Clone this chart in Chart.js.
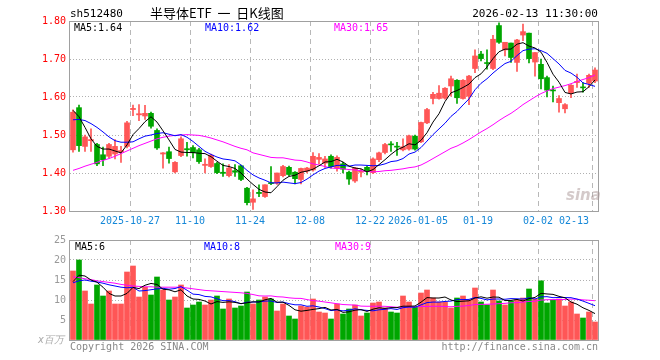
<!DOCTYPE html>
<html>
<head>
<meta charset="utf-8">
<script src="https://cdn.jsdelivr.net/npm/chart.js@4.4.1/dist/chart.umd.min.js"></script>
<style>
  body { margin: 0; background: #fff; }
  #wrap { position: relative; width: 660px; height: 360px; overflow: hidden; font-family: "DejaVu Sans Mono", monospace; font-size: 10px; }
  #wrap canvas { position: absolute; left: 0; }
  .t { position: absolute; white-space: nowrap; line-height: 1; }
</style>
</head>
<body>
<div id="wrap">
  <canvas id="kline" width="660" height="230" style="top:0"></canvas>
  <canvas id="vol" width="660" height="130" style="top:230px"></canvas>

  <div class="t" style="left:70px;top:8px;font-size:11px;color:#000">sh512480</div>
  <div class="t" style="left:150px;top:6px;font-size:13px;font-family:'Noto Sans CJK SC',sans-serif;color:#000">半导体ETF&nbsp;&nbsp;一&nbsp;&nbsp;日K线图</div>
  <div class="t" style="right:62px;top:8px;font-size:11px;color:#000">2026-02-13 11:30:00</div>

  <div class="t" style="left:74px;top:23px;color:#000">MA5:1.64</div>
  <div class="t" style="left:205px;top:23px;color:#00f">MA10:1.62</div>
  <div class="t" style="left:334px;top:23px;color:#f0f">MA30:1.65</div>

  <div class="t" style="left:75px;top:242px;color:#000">MA5:6</div>
  <div class="t" style="left:204px;top:242px;color:#00f">MA10:8</div>
  <div class="t" style="left:335px;top:242px;color:#f0f">MA30:9</div>

  <div class="t" style="left:38px;top:335px;color:#aaa;font-style:italic">x百万</div>
  <div class="t" style="left:70px;top:342px;color:#888">Copyright 2026 SINA.COM</div>
  <div class="t" style="right:62px;top:342px;color:#888">http://finance.sina.com.cn</div>
  <div class="t" style="left:566px;top:188px;font-size:15px;font-weight:bold;font-style:italic;font-family:'DejaVu Sans',sans-serif;color:rgba(170,150,150,0.5)">sina</div>
</div>

<script>
// 交易日
const dates = [
  '2025-10-13','2025-10-14','2025-10-15','2025-10-16','2025-10-17','2025-10-20','2025-10-21','2025-10-22','2025-10-23','2025-10-24',
  '2025-10-27','2025-10-28','2025-10-29','2025-10-30','2025-10-31','2025-11-03','2025-11-04','2025-11-05','2025-11-06','2025-11-07',
  '2025-11-10','2025-11-11','2025-11-12','2025-11-13','2025-11-14','2025-11-17','2025-11-18','2025-11-19','2025-11-20','2025-11-21',
  '2025-11-24','2025-11-25','2025-11-26','2025-11-27','2025-11-28','2025-12-01','2025-12-02','2025-12-03','2025-12-04','2025-12-05',
  '2025-12-08','2025-12-09','2025-12-10','2025-12-11','2025-12-12','2025-12-15','2025-12-16','2025-12-17','2025-12-18','2025-12-19',
  '2025-12-22','2025-12-23','2025-12-24','2025-12-25','2025-12-26','2025-12-29','2025-12-30','2025-12-31','2026-01-05','2026-01-06',
  '2026-01-07','2026-01-08','2026-01-09','2026-01-12','2026-01-13','2026-01-14','2026-01-15','2026-01-16','2026-01-19','2026-01-20',
  '2026-01-21','2026-01-22','2026-01-23','2026-01-26','2026-01-27','2026-01-28','2026-01-29','2026-01-30','2026-02-02','2026-02-03',
  '2026-02-04','2026-02-05','2026-02-06','2026-02-09','2026-02-10','2026-02-11','2026-02-12','2026-02-13'
];

const opens = [
  1.461,1.572,1.470,1.485,1.475,1.448,1.444,1.450,1.455,1.470,
  1.567,1.553,1.550,1.557,1.512,1.450,1.456,1.403,1.446,1.464,
  1.467,1.461,1.420,1.417,1.425,1.402,1.393,1.406,1.419,1.360,
  1.323,1.349,1.338,1.374,1.373,1.393,1.415,1.402,1.383,1.405,
  1.408,1.436,1.426,1.444,1.413,1.424,1.402,1.379,1.402,1.415,
  1.401,1.435,1.454,1.476,1.470,1.461,1.463,1.497,1.482,1.532,
  1.596,1.596,1.597,1.629,1.644,1.596,1.602,1.675,1.713,1.690,
  1.675,1.788,1.724,1.742,1.691,1.763,1.768,1.692,1.686,1.651,
  1.618,1.585,1.569,1.611,1.638,1.626,1.636,1.642
];
const highs = [
  1.566,1.579,1.500,1.516,1.478,1.468,1.478,1.488,1.470,1.536,
  1.579,1.580,1.578,1.560,1.516,1.454,1.468,1.430,1.495,1.481,
  1.472,1.465,1.437,1.450,1.428,1.424,1.422,1.422,1.421,1.362,
  1.356,1.369,1.369,1.417,1.400,1.420,1.418,1.404,1.413,1.415,
  1.454,1.451,1.444,1.448,1.445,1.428,1.405,1.415,1.410,1.418,
  1.440,1.455,1.478,1.483,1.481,1.490,1.500,1.500,1.534,1.570,
  1.612,1.630,1.625,1.655,1.646,1.646,1.657,1.724,1.720,1.724,
  1.762,1.795,1.744,1.742,1.752,1.792,1.768,1.717,1.700,1.655,
  1.629,1.604,1.583,1.633,1.660,1.638,1.660,1.677
];
const lows = [
  1.455,1.457,1.457,1.457,1.419,1.419,1.440,1.437,1.428,1.466,
  1.551,1.538,1.541,1.518,1.462,1.413,1.426,1.400,1.443,1.444,
  1.440,1.425,1.400,1.415,1.398,1.391,1.390,1.391,1.380,1.316,
  1.304,1.338,1.336,1.369,1.370,1.390,1.393,1.371,1.371,1.400,
  1.405,1.424,1.415,1.413,1.405,1.400,1.370,1.375,1.390,1.395,
  1.398,1.430,1.450,1.457,1.446,1.458,1.460,1.460,1.480,1.530,
  1.582,1.594,1.594,1.602,1.583,1.594,1.580,1.664,1.695,1.673,
  1.672,1.741,1.708,1.691,1.667,1.748,1.690,1.655,1.621,1.600,
  1.587,1.560,1.558,1.598,1.625,1.613,1.625,1.638
];
const closes = [
  1.560,1.472,1.495,1.488,1.424,1.435,1.475,1.470,1.459,1.532,
  1.570,1.556,1.557,1.523,1.466,1.453,1.438,1.428,1.490,1.461,
  1.453,1.430,1.423,1.447,1.401,1.399,1.413,1.402,1.383,1.322,
  1.332,1.346,1.369,1.372,1.400,1.417,1.396,1.385,1.412,1.413,
  1.444,1.441,1.437,1.417,1.441,1.410,1.384,1.413,1.405,1.404,
  1.437,1.453,1.475,1.474,1.468,1.469,1.498,1.463,1.533,1.567,
  1.607,1.610,1.623,1.648,1.598,1.644,1.655,1.708,1.701,1.688,
  1.752,1.744,1.744,1.704,1.750,1.772,1.701,1.717,1.648,1.618,
  1.616,1.596,1.580,1.631,1.641,1.624,1.657,1.671
];

// 均线（读自图中）
const ma5 = [
  1.565,1.548,1.520,1.490,1.470,1.463,1.463,1.458,1.453,1.474,
  1.501,1.517,1.535,1.548,1.534,1.511,1.487,1.462,1.455,1.454,
  1.454,1.452,1.451,1.443,1.431,1.420,1.417,1.412,1.400,1.384,
  1.370,1.357,1.350,1.348,1.364,1.381,1.391,1.394,1.402,1.405,
  1.410,1.419,1.429,1.430,1.436,1.429,1.418,1.413,1.411,1.403,
  1.409,1.422,1.435,1.449,1.461,1.468,1.477,1.474,1.486,1.506,
  1.534,1.556,1.588,1.611,1.617,1.625,1.634,1.651,1.661,1.679,
  1.701,1.719,1.726,1.726,1.739,1.743,1.734,1.729,1.718,1.691,
  1.660,1.639,1.612,1.608,1.613,1.614,1.627,1.645
];
const ma10 = [
  1.540,1.541,1.538,1.530,1.520,1.508,1.495,1.485,1.481,1.481,
  1.482,1.490,1.497,1.500,1.504,1.506,1.502,1.498,1.501,1.494,
  1.483,1.470,1.457,1.449,1.442,1.437,1.435,1.432,1.421,1.407,
  1.395,1.387,1.381,1.374,1.374,1.376,1.374,1.372,1.375,1.384,
  1.395,1.405,1.412,1.416,1.420,1.420,1.418,1.421,1.421,1.420,
  1.419,1.420,1.424,1.430,1.432,1.438,1.450,1.455,1.467,1.484,
  1.501,1.516,1.531,1.549,1.562,1.579,1.595,1.619,1.636,1.648,
  1.663,1.676,1.688,1.694,1.709,1.722,1.726,1.727,1.722,1.715,
  1.701,1.687,1.670,1.663,1.652,1.637,1.633,1.628
];
const ma30 = [
  1.407,1.412,1.418,1.423,1.428,1.433,1.438,1.444,1.451,1.458,
  1.465,1.472,1.478,1.484,1.490,1.494,1.497,1.499,1.500,1.501,
  1.500,1.499,1.496,1.492,1.487,1.482,1.476,1.470,1.465,1.461,
  1.453,1.449,1.445,1.441,1.440,1.440,1.437,1.434,1.433,1.429,
  1.424,1.421,1.417,1.413,1.412,1.411,1.409,1.408,1.406,1.404,
  1.403,1.404,1.406,1.407,1.409,1.411,1.414,1.416,1.421,1.429,
  1.438,1.447,1.456,1.465,1.471,1.479,1.488,1.498,1.508,1.517,
  1.527,1.538,1.548,1.557,1.568,1.580,1.590,1.600,1.609,1.616,
  1.622,1.626,1.630,1.635,1.641,1.646,1.651,1.658
];

// 成交量（百万）
const volumes = [
  17.25,20,12.25,9,13.75,11,12.25,9,9,17,
  18.5,10.75,13.2,11.25,15.75,12.5,10,10.75,13.75,8,
  8.75,9.5,8.75,10,11,7.75,10.25,8,8.5,12,
  9,10,10.75,10.25,7.25,9,6,5.25,8.5,8.25,
  10.25,7,6.75,5.25,9,6.5,7.75,8.75,6,6.75,
  9.25,9.5,8,7,6.75,11,9.5,8.25,11.75,12.5,
  10.5,9.5,9.5,8,10.5,11,10,13,9.5,8.75,
  12.5,9.75,8.75,9.75,10,10.5,12.75,10.25,14.8,9.25,
  10,10.25,8.5,9.5,6.5,5.5,7,4.5
];
const volMa5 = [
  14.6,16.2,16.0,15.0,14.45,13.2,11.65,11,11,11.65,
  13.15,12.85,13.69,14.14,13.89,12.69,12.54,12.05,12.55,11,
  10.25,10.15,9.75,9,9.6,9.4,9.55,9.4,9.1,9.3,
  9.55,9.5,10.05,10.4,9.45,9.45,8.65,7.55,7.2,7.4,
  7.65,7.85,8.15,7.5,7.65,6.9,7.05,7.45,7.6,7.15,
  7.7,8.05,7.9,8.1,8.1,8.45,8.45,8.5,9.45,10.6,
  10.5,10.5,10.75,10,9.6,9.7,9.8,10.5,10.8,10.45,
  10.75,10.7,9.85,9.9,10.15,9.75,10.35,10.65,11.66,11.51,
  11.41,10.91,10.56,9.5,8.95,8.05,7.4,6.6
];
const volMa10 = [
  14.3,14.8,15.0,14.7,14.5,14.2,13.8,13.5,13.2,13.05,
  13.18,12.25,12.35,12.57,12.77,12.92,12.7,12.87,13.35,12.45,
  11.47,11.35,10.9,10.78,10.3,9.83,9.85,9.58,9.05,9.45,
  9.48,9.53,9.73,9.75,9.38,9.5,9.08,8.8,8.8,8.43,
  8.55,8.25,7.85,7.35,7.53,7.28,7.45,7.8,7.55,7.4,
  7.3,7.55,7.68,7.85,7.63,8.08,8.25,8.2,8.78,9.35,
  9.48,9.48,9.63,9.73,10.1,10.1,10.15,10.63,10.4,10.03,
  10.23,10.25,10.18,10.35,10.3,10.25,10.53,10.25,10.78,10.83,
  10.58,10.63,10.61,10.58,10.23,9.73,9.16,8.58
];
const volMa30 = [
  15.8,15.6,15.3,15.1,14.8,14.6,14.4,14.2,13.9,13.7,
  13.5,13.4,13.3,13.3,13.2,13.2,13.2,13.2,13.2,13.0,
  12.8,12.6,12.4,12.3,12.2,12.1,12.0,11.9,11.8,11.65,
  11.37,11.04,10.99,11.03,10.82,10.75,10.54,10.42,10.4,10.11,
  9.83,9.71,9.49,9.29,9.07,8.87,8.79,8.73,8.47,8.43,
  8.44,8.44,8.42,8.32,8.18,8.28,8.26,8.27,8.38,8.39,
  8.44,8.43,8.38,8.31,8.42,8.48,8.62,8.88,8.91,8.93,
  9.0,9.09,9.16,9.31,9.34,9.48,9.64,9.69,9.99,10.07,
  10.09,10.12,10.14,10.22,10.21,10.03,9.94,9.82
];

// 坐标轴日期标签
const axisDates = ['2025-10-27','2025-11-10','2025-11-24','2025-12-08','2025-12-22','2026-01-05','2026-01-19','2026-02-02','2026-02-13'];
const axisText  = ['2025-10-27','11-10','11-24','12-08','12-22','2026-01-05','01-19','02-02','02-13'];

const RED = '#ff5656';
const GREEN = '#00a600';
const MONO = 'DejaVu Sans Mono';

Chart.defaults.font.family = MONO;
Chart.defaults.font.size = 10;

const candleColors = closes.map((c, i) => c >= opens[i] ? RED : GREEN);
const gridIdx = axisDates.map(d => dates.indexOf(d));
const labelAt = {};
axisDates.forEach((d, k) => {
  let idx = dates.indexOf(d);
  if (k === axisDates.length - 1) idx -= 3; // 最后一个标签靠右对齐到网格线
  labelAt[idx] = axisText[k];
});

// 外框
const boxPlugin = {
  id: 'box',
  afterDraw(chart) {
    const { ctx, chartArea: a } = chart;
    ctx.save();
    ctx.strokeStyle = '#a0a0a0';
    ctx.lineWidth = 1;
    ctx.strokeRect(a.left - 0.5, a.top + 0.5, a.right - a.left + 1, a.bottom - a.top);
    ctx.restore();
  }
};

function maLine(label, data, color) {
  return { type: 'line', label, data, borderColor: color, borderWidth: 1, pointRadius: 0, tension: 0, order: 1 };
}

const xGrid = {
  drawTicks: false,
  offset: true,
  color: ctx => gridIdx.includes(ctx.index) ? '#b8b8b8' : 'transparent'
};

// K线图
new Chart(document.getElementById('kline'), {
  type: 'bar',
  data: {
    labels: dates,
    datasets: [
      maLine('MA5', ma5, '#000'),
      maLine('MA10', ma10, '#0000ff'),
      maLine('MA30', ma30, '#ff00ff'),
      {
        type: 'bar', label: '实体',
        data: opens.map((o, i) => [o, closes[i]]),
        backgroundColor: candleColors,
        barThickness: 5, grouped: false, minBarLength: 1, order: 2
      },
      {
        type: 'bar', label: '影线',
        data: lows.map((l, i) => [l, highs[i]]),
        backgroundColor: candleColors,
        barThickness: 1, grouped: false, order: 3
      }
    ]
  },
  options: {
    responsive: false,
    animation: false,
    layout: { padding: { top: 21, right: 62, left: 0, bottom: 0 } },
    plugins: { legend: { display: false }, tooltip: { enabled: false } },
    scales: {
      x: {
        offset: true,
        grid: xGrid,
        border: { display: false, dash: [5, 4] },
        ticks: {
          autoSkip: false, maxRotation: 0, padding: 4, labelOffset: -3,
          color: '#1688d8',
          callback: (v, i) => labelAt[i] || ''
        },
        afterFit: s => { s.height = 19; }
      },
      y: {
        min: 1.3, max: 1.8,
        ticks: { stepSize: 0.1, color: '#ff0000', padding: 4, callback: v => v.toFixed(2) },
        grid: {
          drawTicks: false,
          color: ctx => (ctx.tick && ctx.tick.value > 1.301 && ctx.tick.value < 1.799) ? '#b0b0b0' : 'transparent'
        },
        border: { display: false, dash: [1, 2] },
        afterFit: s => { s.width = 70; }
      }
    }
  },
  plugins: [boxPlugin]
});

// 成交量
new Chart(document.getElementById('vol'), {
  type: 'bar',
  data: {
    labels: dates,
    datasets: [
      maLine('MA5', volMa5, '#000'),
      maLine('MA10', volMa10, '#0000ff'),
      maLine('MA30', volMa30, '#ff00ff'),
      {
        type: 'bar', label: '成交量',
        data: volumes,
        backgroundColor: candleColors,
        barThickness: 5, grouped: false, order: 2
      }
    ]
  },
  options: {
    responsive: false,
    animation: false,
    layout: { padding: { top: 10, right: 62, left: 0, bottom: 20 } },
    plugins: { legend: { display: false }, tooltip: { enabled: false } },
    scales: {
      x: {
        offset: true,
        grid: xGrid,
        border: { display: false, dash: [5, 4] },
        ticks: { display: false },
        afterFit: s => { s.height = 0; }
      },
      y: {
        min: 0, max: 25,
        ticks: { stepSize: 5, color: '#999', padding: 4, callback: v => v === 0 ? '' : v },
        grid: {
          drawTicks: false,
          color: ctx => (ctx.tick && ctx.tick.value > 0 && ctx.tick.value < 25) ? '#b0b0b0' : 'transparent'
        },
        border: { display: false, dash: [1, 2] },
        afterFit: s => { s.width = 70; }
      }
    }
  },
  plugins: [boxPlugin]
});
</script>
</body>
</html>
